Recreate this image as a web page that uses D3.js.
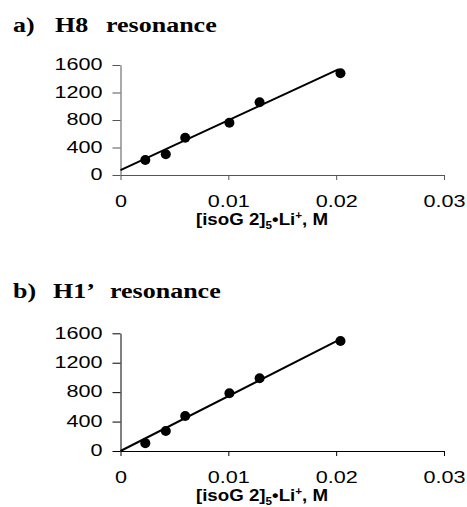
<!DOCTYPE html>
<html>
<head>
<meta charset="utf-8">
<script src="https://cdn.jsdelivr.net/npm/d3@7/dist/d3.min.js"></script>
<style>
  body { margin: 0; background: #fff; }
  svg { display: block; }
</style>
</head>
<body>
<div id="chart-area"></div>
<script>
// concentrations of [isoG 2]5•Li+ (M), shared by both panels
var conc = [0.0023, 0.0042, 0.0060, 0.0101, 0.0129, 0.0204];
// panel a) H8 resonance
var h8Values = [218, 301, 543, 761, 1057, 1479];
var h8Fit = [[0, 70], [0.0202, 1537]];
// panel b) H1' resonance
var h1Values = [107, 272, 476, 784, 988, 1495];
var h1Fit = [[0, 0], [0.0204, 1520]];
// ticks
var yTicks = [0, 400, 800, 1200, 1600];
var xTicks = [0, 0.01, 0.02, 0.03];

var width = 467, height = 507;
var sx = 1.27;   // the scanned figure is stretched sideways

var svg = d3.select("#chart-area")
  .append("svg")
    .attr("width", width)
    .attr("height", height);

var x = d3.scaleLinear().domain([0, 0.03]).range([120.5, 444]);

function title(g, y, parts) {
  parts.forEach(function(p) {
    g.append("text")
      .attr("transform", "translate(" + p[0] + "," + y + ") scale(1.3,1)")
      .attr("font-family", "'Liberation Serif', 'Times New Roman', serif")
      .attr("font-weight", "bold")
      .attr("font-size", "20px")
      .text(p[1]);
  });
}

function panel(opts) {
  var y = d3.scaleLinear().domain([0, 1600]).range(opts.yRange);
  var g = svg.append("g");

  title(g, opts.titleY, opts.title);

  // Axes
  var yAxis = g.append("g")
    .attr("transform", "translate(" + x(0) + ",0)")
    .call(d3.axisLeft(y).tickValues(yTicks).tickSize(8).tickSizeOuter(0).tickFormat(d3.format("d")));
  var xAxis = g.append("g")
    .attr("transform", "translate(0," + y(0) + ")")
    .call(d3.axisBottom(x).tickValues(xTicks).tickSize(5).tickSizeOuter(0).tickPadding(15)
      .tickFormat(function(d) { return d === 0 ? "0" : d3.format(".2f")(d); }));

  [yAxis, xAxis].forEach(function(ax) {
    ax.select(".domain").attr("stroke", opts.axisColor);
    ax.selectAll(".tick line").attr("stroke", opts.axisColor);
    ax.selectAll("text")
      .attr("font-family", "'Liberation Sans', Arial, sans-serif")
      .attr("font-size", "17px")
      .attr("fill", "#000");
  });
  yAxis.selectAll("text")
    .attr("x", -18 / sx)
    .attr("dy", "0.28em")
    .attr("transform", "scale(" + sx + ",1)");
  xAxis.selectAll("text")
    .attr("transform", "scale(" + sx + ",1)");

  // x label
  var lab = g.append("text")
    .attr("transform", "translate(262," + opts.labelY + ") scale(1.17,1)")
    .attr("text-anchor", "middle")
    .attr("font-family", "'Liberation Sans', Arial, sans-serif")
    .attr("font-weight", "bold")
    .attr("font-size", "16px");
  lab.append("tspan").text("[isoG 2]");
  lab.append("tspan").attr("font-size", "10px").attr("dy", "4").text("5");
  lab.append("tspan").attr("dy", "-4").text("\u2022Li");
  lab.append("tspan").attr("font-size", "10px").attr("dy", "-6").text("+");
  lab.append("tspan").attr("dy", "6").text(", M");

  // Fit line
  var line = d3.line()
    .x(function(d) { return x(d[0]); })
    .y(function(d) { return y(d[1]); });
  g.append("path")
    .attr("d", line(opts.fit))
    .attr("fill", "none")
    .attr("stroke", "#000")
    .attr("stroke-width", 2);

  // Points
  g.selectAll(".pt")
    .data(opts.values)
    .enter().append("circle")
      .attr("class", "pt")
      .attr("cx", function(d, i) { return x(conc[i]); })
      .attr("cy", function(d) { return y(d); })
      .attr("r", 5)
      .attr("fill", "#000");
}

panel({
  title: [[13, "a)"], [55, "H8"], [106, "resonance"]],
  titleY: 32,
  yRange: [175, 65],
  labelY: 225,
  axisColor: "#555",
  values: h8Values,
  fit: h8Fit
});

panel({
  title: [[13, "b)"], [53, "H1\u2019"], [110, "resonance"]],
  titleY: 298,
  yRange: [451, 333.3],
  labelY: 501,
  axisColor: "#000",
  values: h1Values,
  fit: h1Fit
});
</script>
</body>
</html>
